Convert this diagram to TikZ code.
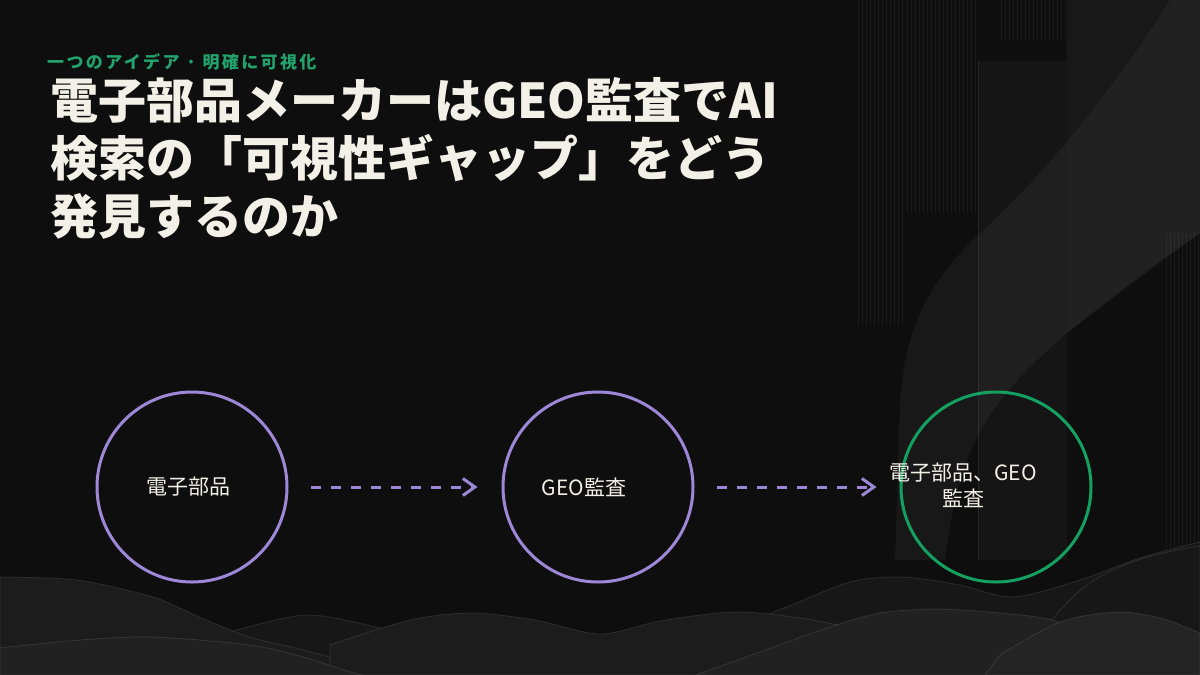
\documentclass[tikz,border=0pt]{standalone}
\usepackage{fontspec}
\setmainfont{Noto Sans CJK JP}
\usetikzlibrary{arrows.meta,positioning}
\definecolor{bgdark}{HTML}{0E0E0E}
\definecolor{lilac}{HTML}{9D88D8}
\definecolor{jade}{HTML}{14A060}
\definecolor{ivory}{HTML}{F3F0E8}
\definecolor{leaf}{HTML}{22A36C}
\tikzset{
    ring/.style={circle, draw=lilac, line width=3pt, minimum size=190pt, inner sep=0pt},
    flow/.style={draw=lilac, line width=3pt, dash pattern=on 10pt off 10pt,
                 -{Straight Barb[length=12pt,width=17pt]}},
    tag/.style={text=ivory, font=\fontsize{21}{26}\selectfont, align=center, inner sep=0pt},
    headline/.style={anchor=base west, text=ivory, inner sep=0pt, font=\bfseries\fontsize{48}{58}\selectfont},
    stripe/.style={white, opacity=0.05, line width=0.8pt},
    hill/.style={draw=white, draw opacity=0.1, line width=0.8pt}
}

\begin{document}
\begin{tikzpicture}[x=1pt,y=-1pt]
                        \fill[bgdark] (0,0) rectangle (1200,675);
                        \useasboundingbox (0,0) rectangle (1200,675);

                        % right backdrop
                        \foreach \x in {858,862,...,904} \draw[stripe] (\x,0) -- (\x,325);
                        \foreach \x in {907,911,...,975} \draw[stripe] (\x,0) -- (\x,213);
                        \foreach \x in {1001,1005,...,1065} \draw[stripe] (\x,0) -- (\x,40);
                        \foreach \x in {1166,1170,...,1198} \draw[stripe] (\x,233) -- (\x,560);
                        \fill[white, opacity=0.03] (978,61) rectangle (1067,560);
                        \draw[white, opacity=0.07] (978,61) -- (978,560);
                        \fill[white, opacity=0.045] (1067,0) -- (1200,0) -- (1200,233)
                            .. controls (1150,270) .. (1067,333) -- cycle;
                        \fill[white, opacity=0.045] (1170,0) .. controls (1120,80) and (1050,170) .. (978,235)
                            .. controls (920,290) and (905,340) .. (900,400) -- (895,560) -- (945,560)
                            .. controls (960,440) and (990,400) .. (1067,333)
                            .. controls (1120,290) and (1160,260) .. (1200,233) -- (1200,0) -- cycle;

                        % hills, back to front
                        \fill[hill, fill=black!91] plot[smooth] coordinates {(230,632) (306,615) (380,628) (440,645) (600,660) (700,640) (784,608) (850,582) (902,577) (960,585) (1013,597) (1080,580) (1140,558) (1200,542)} -- (1200,675) -- (230,675) -- cycle;
                        \fill[hill, fill=black!89] plot[smooth] coordinates {(0,577) (77,580) (153,597) (199,617) (249,637) (291,647) (340,660) (380,675)} -- (0,675) -- cycle;
                        \fill[hill, fill=black!89] plot[smooth] coordinates {(330,645) (410,620) (471,613) (535,620) (600,634) (660,621) (734,612) (800,618) (868,632) (930,652) (990,675)} -- (330,675) -- cycle;
                        \fill[hill, fill=black!87] plot[smooth] coordinates {(0,648) (80,640) (153,637) (249,645) (300,656) (344,670) (362,675)} -- (0,675) -- cycle;
                        \fill[hill, fill=black!87] plot[smooth] coordinates {(696,675) (760,652) (830,627) (880,613) (937,609) (1000,613) (1052,620) (1090,640) (1120,675)} -- cycle;
                        \fill[hill, fill=black!86] plot[smooth] coordinates {(1000,655) (1060,622) (1117,612) (1160,618) (1200,633)} -- (1200,675) -- (985,675) -- cycle;
                        \draw[white, opacity=0.1, line width=0.8pt] (1052,620) .. controls (1080,585) and (1110,560) .. (1200,546);

                        % headings
                        \node[anchor=base west, text=leaf, inner sep=0pt, font=\bfseries\fontsize{17}{20}\selectfont\addfontfeature{LetterSpace=14}] (S) at (47,68) {一つのアイデア · 明確に可視化};
                        \node[headline] (T1) at (50,118) {電子部品メーカーはGEO監査でAI};
                        \node[headline] (T2) at (50,176) {検索の「可視性ギャップ」をどう};
                        \node[headline] (T3) at (50,234) {発見するのか};

                        % flow
                        \node[ring] (P) at (192,487) {};
                        \node[ring] (G) at (598,487) {};
                        \node[ring, draw=jade] (R) at (996,487) {};
                        \node[tag] (Pl) at (188,487) {電子部品};
                        \node[tag] (Gl) at (584,487) {GEO監査};
                        \node[tag] (Rl) at (963,485) {電子部品、GEO\\監査};

                        \draw[flow] ([xshift=22pt]P.east) -- ([xshift=-24pt]G.west);
                        \draw[flow] ([xshift=22pt]G.east) -- ([xshift=-23pt]R.west);
                    \end{tikzpicture}
\end{document}
